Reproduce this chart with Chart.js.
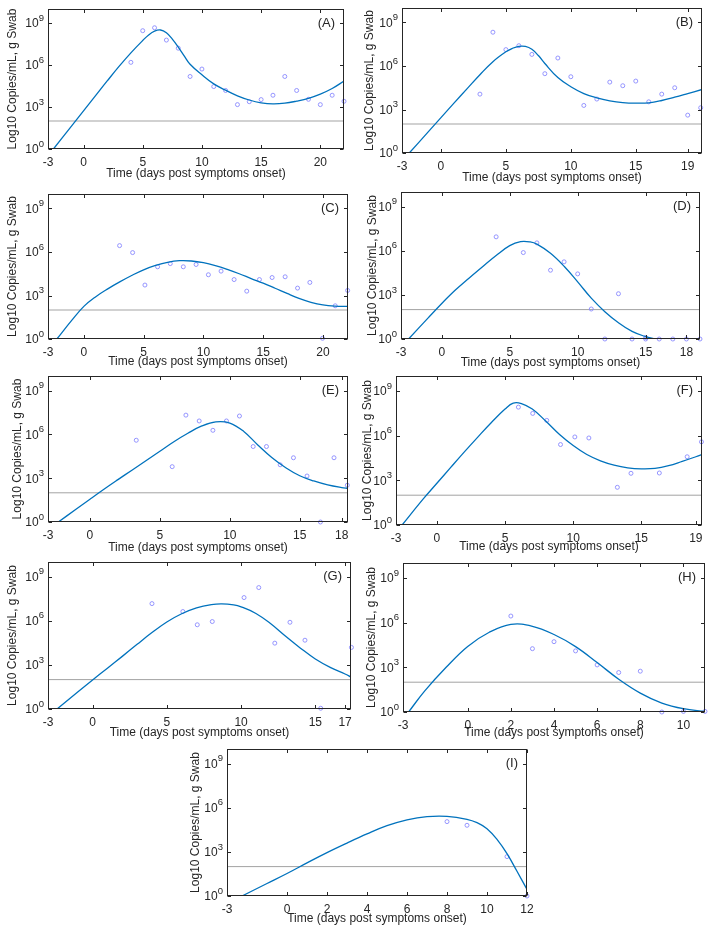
<!DOCTYPE html>
<html>
<head>
<meta charset="utf-8">
<script src="https://cdn.jsdelivr.net/npm/chart.js@4.4.1/dist/chart.umd.min.js"></script>
<style>
  html, body { margin: 0; padding: 0; background: #fff; }
  #fig { position: relative; width: 726px; height: 926px; overflow: hidden; }
  #fig canvas { position: absolute; }
</style>
</head>
<body>
<div id="fig"></div>
<script>
// values are log10 copies/mL
const yTicks = [0, 3, 6, 9];
const detectionLimit = 2;

// (A)
const xRangeA = [-3, 22];
const xTicksA = [-3, 0, 5, 10, 15, 20];
const obsDaysA = [4, 5, 6, 7, 8, 9, 10, 11, 12, 13, 14, 15, 16, 17, 18, 19, 20, 21, 22];
const obsLogA = [6.19, 8.45, 8.66, 7.78, 7.2, 5.18, 5.71, 4.46, 4.18, 3.17, 3.38, 3.53, 3.84, 5.18, 4.18, 3.55, 3.17, 3.84, 3.41];
const fitDaysA = [-2.54, -1, 0, 1, 2, 3, 4, 5, 5.5, 6, 6.5, 7, 7.5, 8, 8.5, 9, 10, 11, 12, 13, 14, 15, 16, 17, 18, 19, 20, 21, 22];
const fitLogA = [0, 1.65, 2.72, 3.79, 4.86, 5.9, 6.87, 7.75, 8.15, 8.42, 8.5, 8.3, 7.85, 7.28, 6.65, 6.05, 5.3, 4.65, 4.2, 3.8, 3.5, 3.3, 3.22, 3.27, 3.42, 3.62, 3.92, 4.32, 4.85];

// (B)
const xRangeB = [-3, 20.1];
const xTicksB = [-3, 0, 5, 10, 15, 19];
const obsDaysB = [3, 4, 5, 6, 7, 8, 9, 10, 11, 12, 13, 14, 15, 16, 17, 18, 19, 20];
const obsLogB = [4.06, 8.33, 7.13, 7.4, 6.8, 5.47, 6.55, 5.26, 3.28, 3.72, 4.89, 4.64, 4.96, 3.53, 4.06, 4.5, 2.61, 3.12];
const fitDaysB = [-2.44, -1, 0, 1, 2, 3, 4, 5, 5.5, 6, 6.5, 7, 7.5, 8, 9, 10, 11, 12, 13, 14, 15, 16, 17, 18, 19, 20.1];
const fitLogB = [0, 1.44, 2.44, 3.44, 4.42, 5.4, 6.3, 6.98, 7.22, 7.36, 7.35, 7.15, 6.72, 6.17, 5.2, 4.57, 4.1, 3.8, 3.6, 3.48, 3.44, 3.46, 3.62, 3.85, 4.1, 4.38];

// (C)
const xRangeC = [-3, 22.1];
const xTicksC = [-3, 0, 5, 10, 15, 20];
const obsDaysC = [2.99, 4.08, 5.11, 6.17, 7.23, 8.32, 9.39, 10.42, 11.48, 12.57, 13.63, 14.69, 15.75, 16.84, 17.88, 18.91, 19.97, 21.03, 22.07];
const obsLogC = [6.44, 5.96, 3.72, 4.98, 5.2, 4.98, 5.14, 4.43, 4.68, 4.1, 3.3, 4.1, 4.24, 4.29, 3.51, 3.9, 0.05, 2.29, 3.35];
const fitDaysC = [-2.26, -1, 0, 1, 2, 3, 4, 5, 6, 7, 8, 9, 10, 11, 12, 13, 14, 15, 16, 17, 18, 19, 20, 21, 22.1];
const fitLogC = [0, 1.3, 2.25, 2.92, 3.46, 3.94, 4.38, 4.77, 5.07, 5.29, 5.4, 5.38, 5.26, 5.06, 4.8, 4.5, 4.17, 3.85, 3.5, 3.14, 2.8, 2.53, 2.35, 2.27, 2.25];

// (D)
const xRangeD = [-3, 19];
const xTicksD = [-3, 0, 5, 10, 15, 18];
const obsDaysD = [4, 6, 7, 8, 9, 10, 11, 12, 13, 14, 15, 15, 16, 17, 18, 19];
const obsLogD = [6.95, 5.88, 6.54, 4.68, 5.25, 4.43, 2.04, 0, 3.08, 0, 0.1, 0, 0, 0, 0, 0];
const fitDaysD = [-2.44, -1, 0, 1, 2, 3, 4, 5, 5.8, 6.5, 7, 8, 9, 10, 11, 12, 13, 14, 15, 15.7];
const fitLogD = [0, 1.44, 2.42, 3.33, 4.14, 4.92, 5.68, 6.35, 6.62, 6.6, 6.45, 5.83, 4.95, 3.89, 2.78, 1.86, 1.11, 0.52, 0.16, 0];

// (E)
const xRangeE = [-3, 18.45];
const xTicksE = [-3, 0, 5, 10, 15, 18];
const obsDaysE = [3.31, 5.88, 6.86, 7.81, 8.79, 9.76, 10.69, 11.67, 12.62, 13.6, 14.55, 15.52, 16.48, 17.45, 18.4];
const obsLogE = [5.6, 3.79, 7.32, 6.92, 6.28, 6.92, 7.26, 5.17, 5.17, 3.92, 4.4, 3.15, 0, 4.4, 2.52];
const fitDaysE = [-2.26, -1, 0, 1, 2, 3, 4, 5, 6, 7, 8, 9, 10, 11, 12, 13, 14, 15, 16, 17, 18, 18.45];
const fitLogE = [0, 0.87, 1.56, 2.24, 2.9, 3.55, 4.2, 4.85, 5.5, 6.08, 6.58, 6.86, 6.78, 6.2, 5.28, 4.42, 3.72, 3.17, 2.81, 2.54, 2.36, 2.31];

// (F)
const xRangeF = [-3, 19.45];
const xTicksF = [-3, 0, 5, 10, 15, 19];
const obsDaysF = [5.98, 7.03, 8.06, 9.07, 10.12, 11.15, 13.24, 14.24, 16.32, 18.36, 19.41];
const obsLogF = [7.91, 7.49, 7.02, 5.4, 5.91, 5.84, 2.53, 3.47, 3.49, 4.58, 5.58];
const fitDaysF = [-2.55, -1, 0, 1, 2, 3, 4, 5, 5.6, 6.2, 7, 8, 9, 10, 11, 12, 13, 14, 15, 16, 17, 18, 19, 19.45];
const fitLogF = [0, 1.75, 2.8, 3.85, 4.89, 5.9, 6.88, 7.78, 8.18, 8.15, 7.78, 6.96, 6.07, 5.33, 4.73, 4.31, 4.02, 3.84, 3.77, 3.8, 3.98, 4.27, 4.58, 4.73];

// (G)
const xRangeG = [-3, 17.4];
const xTicksG = [-3, 0, 5, 10, 15, 17];
const obsDaysG = [4.0, 6.08, 7.05, 8.06, 10.2, 11.19, 12.27, 13.29, 14.3, 15.36, 17.43];
const obsLogG = [7.17, 6.63, 5.73, 5.95, 7.58, 8.26, 4.48, 5.9, 4.68, 0.05, 4.19];
const fitDaysG = [-2.39, -1, 0, 1, 2, 3, 4, 5, 6, 7, 8, 8.7, 9.5, 10, 11, 12, 13, 14, 15, 16, 17, 17.4];
const fitLogG = [0, 1.15, 1.97, 2.78, 3.58, 4.4, 5.2, 5.92, 6.48, 6.88, 7.1, 7.15, 7.08, 6.95, 6.5, 5.8, 4.95, 4.14, 3.4, 2.83, 2.38, 2.17];

// (H)
const xRangeH = [-3, 11];
const xTicksH = [-3, 0, 2, 4, 6, 8, 10];
const obsDaysH = [2, 3, 4, 5, 6, 7, 8, 9, 10, 11];
const obsLogH = [6.44, 4.25, 4.72, 4.1, 3.16, 2.65, 2.74, 0, 0.04, 0.04];
const fitDaysH = [-2.74, -2, -1, 0, 1, 2, 3, 4, 5, 6, 7, 8, 9, 10, 11];
const fitLogH = [0, 1.4, 3.0, 4.4, 5.35, 5.88, 5.75, 5.2, 4.39, 3.32, 2.2, 1.27, 0.6, 0.22, 0.04];

// (I)
const xRangeI = [-3, 12];
const xTicksI = [-3, 0, 2, 4, 6, 8, 10, 12];
const obsDaysI = [8, 9, 11, 12];
const obsLogI = [5.06, 4.81, 2.68, 0];
const fitDaysI = [-2.25, -1, 0, 1, 2, 3, 4, 5, 6, 7, 8, 9, 9.5, 10, 10.5, 11, 11.5, 12];
const fitLogI = [0, 0.85, 1.53, 2.25, 2.95, 3.6, 4.22, 4.78, 5.18, 5.4, 5.42, 5.22, 4.99, 4.58, 3.85, 2.88, 1.68, 0.45];

const panels = [
  { id: "A", xRange: xRangeA, xTicks: xTicksA, obsDays: obsDaysA, obsLog: obsLogA, fitDays: fitDaysA, fitLog: fitLogA },
  { id: "B", xRange: xRangeB, xTicks: xTicksB, obsDays: obsDaysB, obsLog: obsLogB, fitDays: fitDaysB, fitLog: fitLogB },
  { id: "C", xRange: xRangeC, xTicks: xTicksC, obsDays: obsDaysC, obsLog: obsLogC, fitDays: fitDaysC, fitLog: fitLogC },
  { id: "D", xRange: xRangeD, xTicks: xTicksD, obsDays: obsDaysD, obsLog: obsLogD, fitDays: fitDaysD, fitLog: fitLogD },
  { id: "E", xRange: xRangeE, xTicks: xTicksE, obsDays: obsDaysE, obsLog: obsLogE, fitDays: fitDaysE, fitLog: fitLogE },
  { id: "F", xRange: xRangeF, xTicks: xTicksF, obsDays: obsDaysF, obsLog: obsLogF, fitDays: fitDaysF, fitLog: fitLogF },
  { id: "G", xRange: xRangeG, xTicks: xTicksG, obsDays: obsDaysG, obsLog: obsLogG, fitDays: fitDaysG, fitLog: fitLogG },
  { id: "H", xRange: xRangeH, xTicks: xTicksH, obsDays: obsDaysH, obsLog: obsLogH, fitDays: fitDaysH, fitLog: fitLogH },
  { id: "I", xRange: xRangeI, xTicks: xTicksI, obsDays: obsDaysI, obsLog: obsLogI, fitDays: fitDaysI, fitLog: fitLogI },
];

// page placement of each plot box: [left, top, right, bottom], gap of y title / x title from the box
const layout = {
  A: { box: [48, 9, 344, 149], yGap: 36, xGap: 25 },
  B: { box: [402, 8, 702, 153], yGap: 33, xGap: 25 },
  C: { box: [48, 194, 348, 339], yGap: 36, xGap: 23 },
  D: { box: [401, 192, 700, 339], yGap: 29, xGap: 24 },
  E: { box: [48, 376, 348, 522], yGap: 31, xGap: 26 },
  F: { box: [396, 376, 702, 525], yGap: 29, xGap: 22 },
  G: { box: [48, 562, 351, 709], yGap: 36, xGap: 24 },
  H: { box: [403, 563, 705, 712], yGap: 32, xGap: 21 },
  I: { box: [227, 749, 527, 896], yGap: 32, xGap: 23 },
};

const FONT = "'Liberation Sans', Arial, Helvetica, sans-serif";
const INK = "#262626";

const boxPlugin = {
  id: "box",
  afterDatasetsDraw(chart, args, opts) {
    const { ctx, chartArea: a, scales } = chart;
    const xs = scales.x, ys = scales.y;
    const l = Math.round(a.left) + 0.5, r = Math.round(a.right) - 0.5;
    const t = Math.round(a.top) + 0.5, b = Math.round(a.bottom) - 0.5;
    ctx.save();
    ctx.strokeStyle = INK;
    ctx.lineWidth = 1;
    ctx.strokeRect(l, t, r - l, b - t);
    ctx.beginPath();
    opts.xTicks.forEach((v) => {
      const px = Math.round(xs.getPixelForValue(v)) + 0.5;
      ctx.moveTo(px, b); ctx.lineTo(px, b - 3.5);
      ctx.moveTo(px, t); ctx.lineTo(px, t + 3.5);
    });
    yTicks.forEach((v) => {
      const py = Math.round(ys.getPixelForValue(v)) + 0.5;
      ctx.moveTo(l, py); ctx.lineTo(l + 3.5, py);
      ctx.moveTo(r, py); ctx.lineTo(r - 3.5, py);
    });
    ctx.stroke();

    // y tick labels: 10 with a raised exponent
    ctx.fillStyle = INK;
    ctx.textBaseline = "middle";
    yTicks.forEach((v) => {
      const py = ys.getPixelForValue(v);
      const exp = String(v);
      ctx.font = "9.5px " + FONT;
      const ew = ctx.measureText(exp).width;
      const right = a.left - 4;
      ctx.textAlign = "left";
      ctx.fillText(exp, right - ew, py - 5);
      ctx.font = "12px " + FONT;
      ctx.textAlign = "right";
      ctx.fillText("10", right - ew, py + 1);
    });

    // panel letter
    ctx.font = "13px " + FONT;
    ctx.textAlign = "right";
    ctx.fillText("(" + opts.label + ")", a.right - 9, ys.getPixelForValue(9));
    ctx.restore();
  },
};

const fig = document.getElementById("fig");

panels.forEach((p) => {
  const L = layout[p.id];
  const [bl, bt, br, bb] = L.box;
  const W = Math.round(L.yGap + 7.2);
  const H = Math.round(L.xGap + 7.2);
  const P = 6, R = 14;

  const canvas = document.createElement("canvas");
  canvas.width = W + (br - bl) + R;
  canvas.height = P + (bb - bt) + H;
  canvas.style.left = bl - W + "px";
  canvas.style.top = bt - P + "px";
  fig.appendChild(canvas);

  new Chart(canvas, {
    type: "line",
    data: {
      datasets: [
        {
          label: "limit",
          data: [
            { x: p.xRange[0], y: detectionLimit },
            { x: p.xRange[1], y: detectionLimit },
          ],
          borderColor: "#a3a3a3",
          borderWidth: 1,
          pointRadius: 0,
          order: 3,
        },
        {
          label: "observed",
          data: p.obsDays.map((d, i) => ({ x: d, y: p.obsLog[i] })),
          showLine: false,
          pointStyle: "circle",
          pointRadius: 2,
          borderWidth: 0.9,
          borderColor: "#8a8aff",
          backgroundColor: "rgba(0,0,0,0)",
          clip: false,
          order: 2,
        },
        {
          label: "model",
          data: p.fitDays.map((d, i) => ({ x: d, y: p.fitLog[i] })),
          borderColor: "#0072BD",
          borderWidth: 1.3,
          pointRadius: 0,
          tension: 0.4,
          fill: false,
          order: 1,
        },
      ],
    },
    options: {
      responsive: false,
      maintainAspectRatio: false,
      devicePixelRatio: 1,
      animation: false,
      events: [],
      layout: { padding: { top: P, right: R, left: 0, bottom: 0 } },
      plugins: {
        legend: { display: false },
        tooltip: { enabled: false },
        box: { label: p.id, xTicks: p.xTicks },
      },
      scales: {
        x: {
          type: "linear",
          min: p.xRange[0],
          max: p.xRange[1],
          grid: { display: false, drawTicks: false },
          border: { display: false },
          afterBuildTicks: (s) => {
            s.ticks = p.xTicks.map((v) => ({ value: v }));
          },
          afterFit: (s) => {
            s.height = H;
          },
          ticks: {
            autoSkip: false,
            maxRotation: 0,
            padding: 6,
            color: INK,
            font: { size: 12, family: FONT },
          },
          title: {
            display: true,
            text: "Time (days post symptoms onset)",
            color: INK,
            padding: 0,
            font: { size: 12, family: FONT },
          },
        },
        y: {
          type: "linear",
          min: 0,
          max: 10,
          grid: { display: false, drawTicks: false },
          border: { display: false },
          ticks: { display: false },
          afterFit: (s) => {
            s.width = W;
          },
          title: {
            display: true,
            text: "Log10 Copies/mL, g Swab",
            color: INK,
            padding: 0,
            font: { size: 12, family: FONT },
          },
        },
      },
    },
    plugins: [boxPlugin],
  });
});
</script>
</body>
</html>
